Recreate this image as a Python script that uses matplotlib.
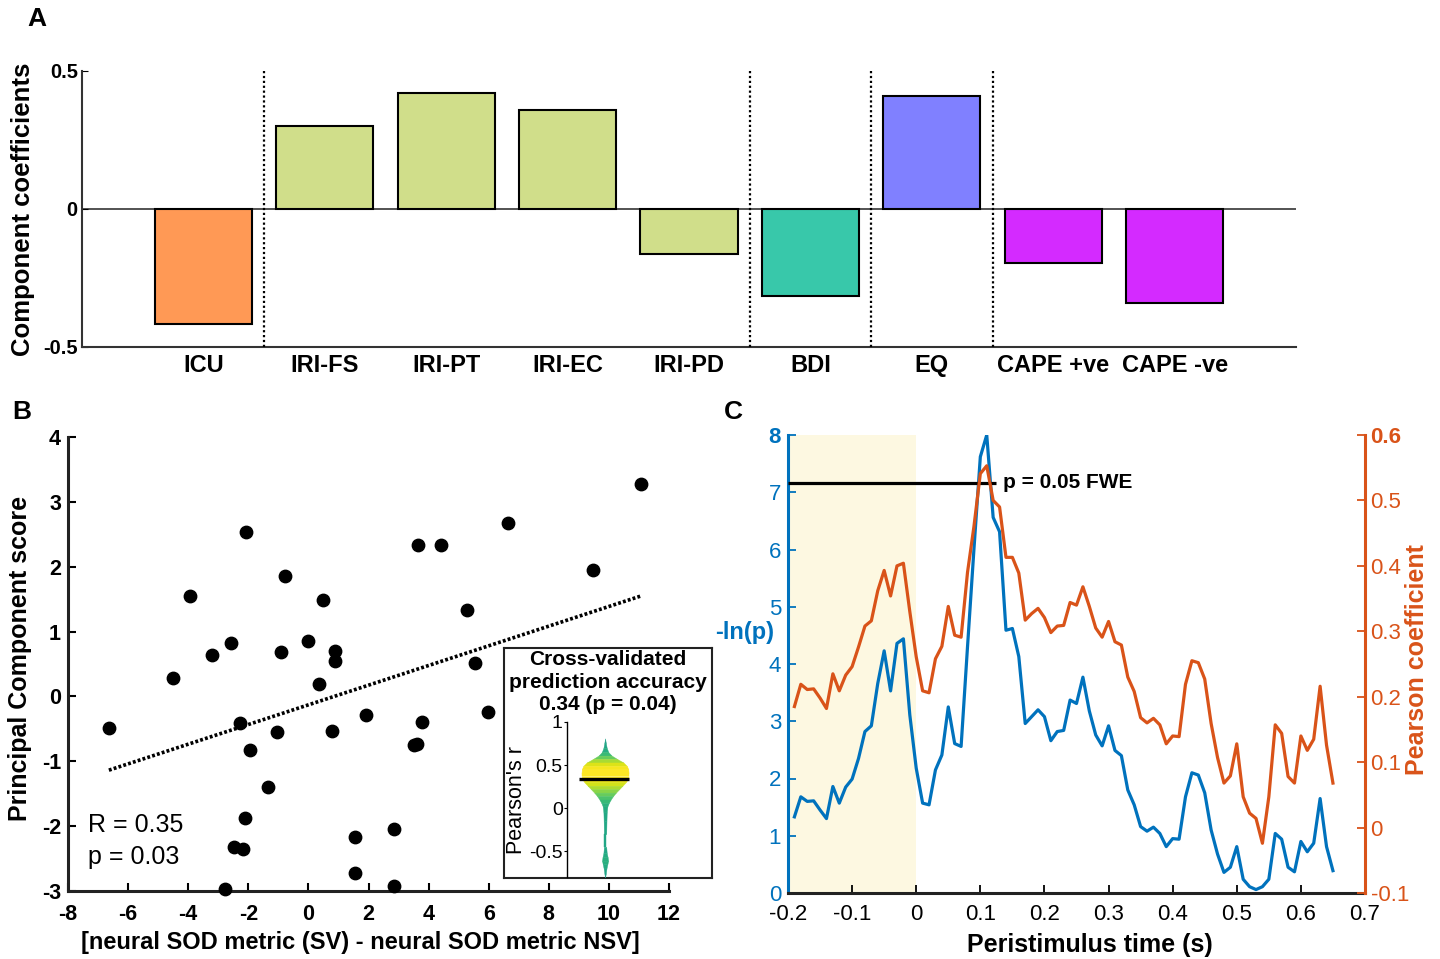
import numpy as np
import matplotlib
matplotlib.use('Agg')
import matplotlib.pyplot as plt

plt.rcParams['axes.unicode_minus'] = False
FONT = ['Liberation Sans', 'DejaVu Sans']
plt.rcParams['font.family'] = FONT

# ---------------- Panel A data ----------------
a_labels = ['ICU', 'IRI-FS', 'IRI-PT', 'IRI-EC', 'IRI-PD', 'BDI', 'EQ', 'CAPE +ve', 'CAPE -ve']
a_values = [-0.415, 0.302, 0.422, 0.360, -0.164, -0.315, 0.411, -0.195, -0.339]
a_colors = ['#FF9955', '#D0DE8A', '#D0DE8A', '#D0DE8A', '#D0DE8A', '#38C8AA', '#8080FF', '#D42AFF', '#D42AFF']
a_group_edges = [1.5, 5.5, 6.5, 7.5]

# ---------------- Panel B data ----------------
b_x = [11.08, 6.64, -2.07, 3.66, 4.41, 9.46, -0.78, -3.95, 0.49, 5.29, -2.57, 0.00, -3.20,
       -0.90, 0.87, 0.90, -4.49, 5.56, 0.34, -6.64, -2.27, -1.03, 0.78, 1.93, 3.79, 5.98,
       3.51, 3.60, -1.96, -1.36, -2.10, -2.48, -2.18, 1.56, 2.85, 1.55, -2.79, 2.85]
b_y = [3.27, 2.67, 2.54, 2.34, 2.33, 1.95, 1.85, 1.55, 1.48, 1.33, 0.82, 0.85, 0.64,
       0.69, 0.70, 0.55, 0.29, 0.51, 0.19, -0.48, -0.41, -0.55, -0.53, -0.29, -0.39, -0.24,
       -0.75, -0.73, -0.83, -1.39, -1.87, -2.32, -2.36, -2.16, -2.05, -2.73, -2.97, -2.92]

# inset violin outline (Pearson's r vs relative half width)
v_r = [0.81, 0.76, 0.70, 0.65, 0.61, 0.57, 0.53, 0.49, 0.45, 0.41, 0.37, 0.34, 0.30, 0.26,
       0.22, 0.18, 0.14, 0.10, 0.06, 0.02, -0.05, -0.15, -0.30, -0.45, -0.52, -0.57, -0.61,
       -0.65, -0.70, -0.76, -0.81]
v_w = [0.0, 0.03, 0.07, 0.14, 0.28, 0.52, 0.78, 0.93, 0.99, 1.0, 1.0, 0.98, 0.88, 0.74,
       0.60, 0.46, 0.34, 0.24, 0.16, 0.10, 0.07, 0.06, 0.05, 0.05, 0.07, 0.11, 0.13,
       0.10, 0.06, 0.03, 0.0]
v_median = 0.34

# ---------------- Panel C data ----------------
c_time = np.round(np.arange(-0.19, 0.655, 0.01), 2)
c_neglogp = [1.33, 1.68, 1.60, 1.61, 1.45, 1.30, 1.86, 1.57, 1.85, 1.99,
             2.35, 2.82, 2.92, 3.66, 4.23, 3.53, 4.36, 4.44, 3.11, 2.18,
             1.57, 1.54, 2.15, 2.41, 3.25, 2.61, 2.56, 4.30, 6.00, 7.62,
             8.00, 6.56, 6.31, 4.59, 4.62, 4.13, 2.96, 3.08, 3.20, 3.08,
             2.66, 2.82, 2.84, 3.37, 3.31, 3.77, 3.18, 2.76, 2.57, 2.92,
             2.49, 2.40, 1.80, 1.54, 1.16, 1.08, 1.15, 1.04, 0.81, 0.95,
             0.94, 1.68, 2.10, 2.06, 1.75, 1.10, 0.68, 0.36, 0.45, 0.81,
             0.24, 0.11, 0.06, 0.11, 0.24, 1.04, 0.94, 0.45, 0.37, 0.90,
             0.72, 0.87, 1.65, 0.81, 0.39]
c_pearson = [0.185, 0.219, 0.211, 0.212, 0.198, 0.182, 0.235, 0.209, 0.233, 0.246,
             0.276, 0.308, 0.316, 0.362, 0.393, 0.354, 0.400, 0.404, 0.330, 0.261,
             0.209, 0.206, 0.258, 0.277, 0.338, 0.294, 0.291, 0.390, 0.460, 0.541,
             0.553, 0.500, 0.490, 0.413, 0.413, 0.389, 0.317, 0.327, 0.335, 0.321,
             0.298, 0.308, 0.309, 0.344, 0.340, 0.368, 0.338, 0.305, 0.291, 0.315,
             0.284, 0.279, 0.230, 0.208, 0.168, 0.160, 0.167, 0.157, 0.128, 0.140,
             0.139, 0.219, 0.255, 0.252, 0.227, 0.159, 0.107, 0.068, 0.079, 0.128,
             0.047, 0.022, 0.014, -0.024, 0.047, 0.157, 0.144, 0.078, 0.068, 0.140,
             0.118, 0.135, 0.216, 0.126, 0.068]
c_threshold = 7.17
c_threshold_end = 0.125

BLUE = '#0072BD'
ORANGE = '#D95319'

W, H = 1440, 959
fig = plt.figure(figsize=(W / 100, H / 100), dpi=100)


def rect(l, t, r, b):
    return [l / W, 1 - b / H, (r - l) / W, (b - t) / H]


# ================= Panel A =================
axA = fig.add_axes(rect(82, 71, 1296, 347))
xa = np.arange(1, len(a_values) + 1)
axA.axhline(0, color='#444444', lw=1.3, zorder=1)
axA.bar(xa, a_values, width=0.8, color=a_colors, edgecolor='black', linewidth=1.5, zorder=2)
axA.vlines(a_group_edges, -0.5, 0.5, colors='black', linestyles=(0, (1, 1.2)), lw=1.6, zorder=3)
axA.set_xlim(0, 10)
axA.set_ylim(-0.5, 0.5)
axA.set_xticks(xa)
axA.set_xticklabels(a_labels, fontweight='bold', fontsize=17)
axA.tick_params(axis='x', length=0, pad=5)
axA.set_yticks([-0.5, 0, 0.5])
axA.set_yticklabels(['-0.5', '0', '0.5'], fontweight='bold', fontsize=14.5)
axA.tick_params(axis='y', direction='in', length=4, pad=3)
for s in ['top', 'right']:
    axA.spines[s].set_visible(False)
for s in ['left', 'bottom']:
    axA.spines[s].set_linewidth(1.5)
    axA.spines[s].set_color('#333333')
axA.set_ylabel('Component coefficients', fontweight='bold', fontsize=18.5, va='center')
axA.yaxis.set_label_coords((23 - 82) / 1214, 0.5)
fig.text(37 / W, 1 - 19 / H, 'A', fontweight='bold', fontsize=19, ha='center', va='center')

# ================= Panel B =================
axB = fig.add_axes(rect(68, 437, 669, 891))
axB.scatter(b_x, b_y, s=80, c='black', zorder=3, clip_on=False)
fit = np.polyfit(b_x, b_y, 1)
xs = np.array([min(b_x), max(b_x)])
axB.plot(xs, np.polyval(fit, xs), color='black', lw=2.6, ls=(0, (0.8, 0.6)), zorder=2)
axB.set_xlim(-8, 12)
axB.set_ylim(-3, 4)
axB.set_xticks(range(-8, 13, 2))
axB.set_yticks(range(-3, 5))
for lab in axB.get_xticklabels() + axB.get_yticklabels():
    lab.set_fontweight('bold')
    lab.set_fontsize(15.5)
axB.tick_params(axis='x', direction='in', length=6, width=1.5, pad=9)
axB.tick_params(axis='y', direction='in', length=6, width=1.5, pad=5)
for s in ['top', 'right']:
    axB.spines[s].set_visible(False)
for s in ['left', 'bottom']:
    axB.spines[s].set_linewidth(2.2)
    axB.spines[s].set_color('#222222')
axB.set_xlabel('[neural SOD metric (SV) - neural SOD metric NSV]', fontweight='bold', fontsize=17,
               va='center')
axB.xaxis.set_label_coords((360 - 68) / 601, (891 - 942) / 454)
axB.set_ylabel('Principal Component score', fontweight='bold', fontsize=18, va='center')
axB.yaxis.set_label_coords((20 - 68) / 601, (891 - 658) / 454)
axB.text(-7.35, -1.98, 'R = 0.35', fontsize=18, ha='left', va='center')
axB.text(-7.35, -2.48, 'p = 0.03', fontsize=18, ha='left', va='center')
fig.text(22 / W, 1 - 412 / H, 'B', fontweight='bold', fontsize=19, ha='center', va='center')

# inset frame
frame = fig.add_axes(rect(504, 648, 712, 878))
frame.set_xticks([])
frame.set_yticks([])
frame.patch.set_facecolor('white')
for s in frame.spines.values():
    s.set_linewidth(1.5)
    s.set_color('#222222')
frame.text(0.5, 0.99, 'Cross-validated\nprediction accuracy\n0.34 (p = 0.04)', transform=frame.transAxes,
           ha='center', va='top', fontweight='bold', fontsize=15, linespacing=1.22)

axV = fig.add_axes(rect(567, 722, 700, 877))
axV.patch.set_alpha(0)
cmap = plt.get_cmap('viridis')
for i in range(len(v_r) - 1):
    yy = [v_r[i], v_r[i + 1]]
    ww = np.array([v_w[i], v_w[i + 1]])
    col = cmap(0.55 + 0.45 * (ww.mean()) ** 0.8)
    axV.fill_betweenx(yy, -ww, ww, color=col, lw=0.3, edgecolor=col)
axV.hlines(v_median, -1.12, 1.02, color='black', lw=2.4)
axV.set_xlim(-1.62, 4.04)
axV.set_ylim(-0.8, 1.0)
axV.set_xticks([])
axV.set_yticks([-0.5, 0, 0.5, 1])
axV.set_yticklabels(['-0.5', '0', '0.5', '1'], fontsize=14)
axV.tick_params(axis='y', length=2, pad=1)
for s in ['top', 'right', 'bottom']:
    axV.spines[s].set_visible(False)
axV.spines['left'].set_linewidth(1.0)
axV.set_ylabel("Pearson's r", fontsize=15.5, va='center')
axV.yaxis.set_label_coords((517 - 567) / 133, 0.5)

# ================= Panel C =================
axC = fig.add_axes(rect(788, 435, 1365, 893))
axC.axvspan(-0.2, 0, color='#FDF8E1', zorder=0, lw=0)
axC.plot(c_time, c_neglogp, color=BLUE, lw=2.3, zorder=3)
axC.hlines(c_threshold, -0.2, c_threshold_end, color='black', lw=2.3, zorder=4)
axC.text(0.135, c_threshold, 'p = 0.05 FWE', fontweight='bold', fontsize=15,
         ha='left', va='center')
axC.set_xlim(-0.2, 0.7)
axC.set_ylim(0, 8)
axC.set_xticks(np.round(np.arange(-0.2, 0.71, 0.1), 1))
axC.set_xticklabels(['-0.2', '-0.1', '0', '0.1', '0.2', '0.3', '0.4', '0.5', '0.6', '0.7'],
                    fontsize=16)
axC.set_yticks(range(0, 9))
axC.set_yticklabels([str(v) for v in range(0, 9)], fontsize=16, color=BLUE)
axC.get_yticklabels()[-1].set_fontweight('bold')
axC.tick_params(axis='x', direction='in', length=6, width=1.3, pad=8)
axC.tick_params(axis='y', direction='in', length=6, width=1.3, pad=5, colors=BLUE)
axC.spines['top'].set_visible(False)
axC.spines['right'].set_visible(False)
axC.spines['left'].set_color(BLUE)
axC.spines['left'].set_linewidth(2.2)
axC.spines['bottom'].set_color('#222222')
axC.spines['bottom'].set_linewidth(2.2)
axC.set_xlabel('Peristimulus time (s)', fontweight='bold', fontsize=18, va='center')
axC.xaxis.set_label_coords((1090 - 788) / 577, (893 - 945) / 458)
axC.set_ylabel('-ln(p)', fontweight='bold', fontsize=17, color=BLUE,
               rotation=0, ha='center', va='center')
axC.yaxis.set_label_coords((745 - 788) / 577, (893 - 633) / 458)

axC2 = axC.twinx()
axC2.plot(c_time, c_pearson, color=ORANGE, lw=2.3, zorder=3)
axC2.set_ylim(-0.1, 0.6)
axC2.set_yticks(np.round(np.arange(-0.1, 0.61, 0.1), 1))
axC2.set_yticklabels(['-0.1', '0', '0.1', '0.2', '0.3', '0.4', '0.5', '0.6'],
                     fontsize=16, color=ORANGE)
axC2.get_yticklabels()[-1].set_fontweight('bold')
axC2.tick_params(axis='y', direction='in', length=6, width=1.3, pad=4, colors=ORANGE)
for s in ['top', 'left', 'bottom']:
    axC2.spines[s].set_visible(False)
axC2.spines['right'].set_color(ORANGE)
axC2.spines['right'].set_linewidth(2.2)
axC2.set_ylabel('Pearson coefficient', fontweight='bold', fontsize=18, color=ORANGE, va='center')
axC2.yaxis.set_label_coords((1417 - 788) / 577, (893 - 660) / 458)
fig.text(733 / W, 1 - 412 / H, 'C', fontweight='bold', fontsize=19, ha='center', va='center')

fig.savefig('out.png', dpi=100)
